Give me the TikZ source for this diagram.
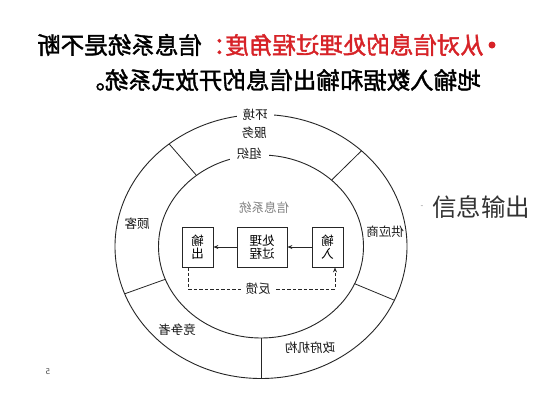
\documentclass[tikz,border=0pt]{standalone}
\usepackage{fontspec}
\usepackage{graphicx}
\setmainfont{Noto Sans CJK SC}
\newfontfamily\topfont[FakeBold=1.6]{Noto Sans CJK SC}
\usetikzlibrary{arrows.meta}
\definecolor{redtxt}{RGB}{215,35,40}
\begin{document}
\begin{tikzpicture}[x=1pt,y=-1pt,
  lbl/.style={font=\fontsize{12.5}{14}\selectfont, inner sep=1pt, text=black!90},
  bx/.style={draw=black!85, line width=0.8pt, minimum height=40pt, inner sep=0pt, align=center, font=\fontsize{12.5}{13}\selectfont},
  ring/.style={line width=0.9pt, draw=black!85},
  radial/.style={line width=0.8pt, draw=black!85},
  arr/.style={line width=0.8pt, draw=black!85, -{Stealth[length=5pt,width=4pt]}},
  toptxt/.style={anchor=east, inner sep=0pt, font=\fontsize{23.5}{28}\topfont}]
\useasboundingbox (0,0) rectangle (533,400);
\fill[white] (0,0) rectangle (533,400);
% rings
\draw[ring] (261,246.5) ellipse [x radius=146pt, y radius=132pt];
\draw[ring] (261,246.5) ellipse [x radius=102.5pt, y radius=91.5pt];
\foreach \t in {129,46.5,201,-24,-90}
  \draw[radial] ({261+102.5*cos(\t)},{246.5-91.5*sin(\t)}) -- ({261+146*cos(\t)},{246.5-132*sin(\t)});
% ring labels
\node[lbl, fill=white, inner xsep=6pt] (env) at (255,115) {\reflectbox{环境}};
\node[lbl] (svc) at (254,133) {\reflectbox{服务}};
\node[lbl, fill=white, inner xsep=7pt] (org) at (249,154) {\reflectbox{组织}};
\node[lbl] (cust) at (137,224) {\reflectbox{顾客}};
\node[lbl] (supp) at (385,232) {\reflectbox{供应商}};
\node[lbl] (comp) at (177,330) {\reflectbox{竞争者}};
\node[lbl] (gov) at (310,348) {\reflectbox{政府机构}};
\node[lbl, text=black!50] (is) at (264,208) {\reflectbox{信息系统}};
% boxes
\node[bx, minimum width=31pt] (bout) at (197.5,247) {\reflectbox{输}\\\reflectbox{出}};
\node[bx, minimum width=50pt] (bproc) at (262,247) {\reflectbox{处理}\\\reflectbox{过程}};
\node[bx, minimum width=31pt] (bin) at (327.5,247) {\reflectbox{输}\\\reflectbox{入}};
\draw[arr] (bin.west) -- (bproc.east);
\draw[arr] (bproc.west) -- (bout.east);
% feedback
\coordinate (fbL) at (188,289);
\coordinate (fbR) at (335,289);
\draw[arr, dash pattern=on 3.5pt off 2pt] (bout.south -| fbL) -- (fbL) -- (fbR) -- (bin.south -| fbR);
\node[lbl, fill=white, inner xsep=3pt] (fb) at (258,289) {\reflectbox{反馈}};
% top text
\fill[redtxt] (492,45) circle (3.5pt);
\node[toptxt] (l1) at (484,45) {\reflectbox{{\color{redtxt}从对信息的处理过程角度：}信息系统是不断}};
\node[toptxt] (l2) at (481,80) {\reflectbox{地输入数据和输出信息的开放式系统。}};
% side label
\node[font=\fontsize{8}{8}\selectfont, text=black!45] (dash) at (422,207) {-};
\node[anchor=west, inner sep=0pt, font=\fontsize{24.5}{27}\selectfont, text=black!80] (outlbl) at (432,207) {信息输出};
\node[font=\fontsize{8}{8}\selectfont, text=black!70] (pg) at (48,372) {\reflectbox{5}};
\end{tikzpicture}
\end{document}
